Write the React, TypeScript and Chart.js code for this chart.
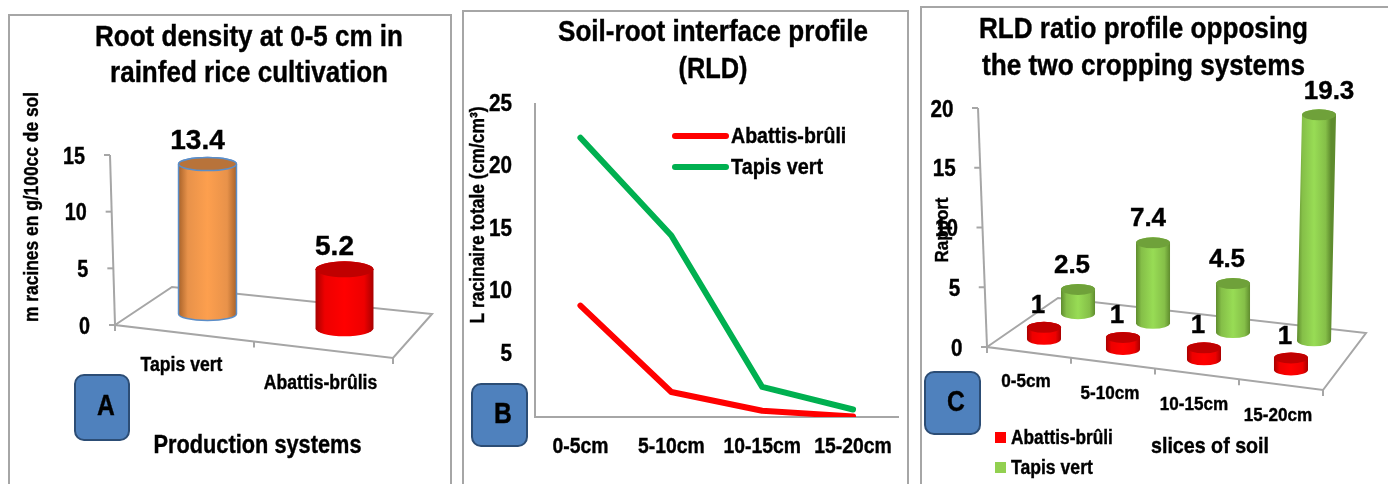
import React, { useEffect, useRef } from "react";
import { Chart, registerables } from "chart.js";

Chart.register(...registerables);

// ---- data ----
const systems = ["Tapis vert", "Abattis-brûlis"];
const rootDensity = [13.4, 5.2];
const depths = ["0-5cm", "5-10cm", "10-15cm", "15-20cm"];
const rldAbattis = [8.9, 2.0, 0.5, 0.05];
const rldTapis = [22.3, 14.5, 2.4, 0.6];
const ratioAbattis = [1, 1, 1, 1];
const ratioTapis = [2.5, 7.4, 4.5, 19.3];

const SANS = '"Liberation Sans", Arial, sans-serif';
const AXIS = "#a6a6a6";
const RED = "#ff0000";
const GREEN_LINE = "#00b050";
const LEAF = "#92d050";
const H = 484;

type Txt = { t: string; x: number; y: number; size: number; rot?: boolean; align?: CanvasTextAlign; w?: number; sq?: number };

function text(ctx: CanvasRenderingContext2D, o: Txt) {
  ctx.save();
  ctx.translate(o.x, o.y);
  if (o.rot) ctx.rotate(-Math.PI / 2);
  ctx.font = `bold ${o.size}px ${SANS}`;
  ctx.fillStyle = "#000";
  ctx.strokeStyle = "#000";
  ctx.lineWidth = 0.4;
  ctx.textAlign = o.align || "center";
  ctx.textBaseline = "middle";
  const full = ctx.measureText(o.t).width;
  const w = o.w ?? full * (o.sq ?? 1);
  ctx.fillText(o.t, 0, 0, w);
  ctx.strokeText(o.t, 0, 0, w);
  ctx.restore();
}

function badge(ctx: CanvasRenderingContext2D, b: any) {
  ctx.save();
  ctx.beginPath();
  ctx.roundRect(b.x, b.y, b.w, b.h, 9);
  ctx.fillStyle = "#4f81bd";
  ctx.fill();
  ctx.lineWidth = 2;
  ctx.strokeStyle = "#2c4d75";
  ctx.stroke();
  ctx.restore();
  text(ctx, { t: b.t, x: b.tx, y: b.ty, size: 29, sq: 0.85 });
}

function cylinder(ctx: CanvasRenderingContext2D, x: number, base: number, h: number, rx: number, ry: number, lean: number, c: any) {
  const tx = x + lean;
  const top = base - h;
  const g = ctx.createLinearGradient(x - rx, 0, x + rx, 0);
  g.addColorStop(0, c.edge);
  g.addColorStop(0.16, c.mid);
  g.addColorStop(0.5, c.light);
  g.addColorStop(0.84, c.mid);
  g.addColorStop(1, c.edge);
  ctx.save();
  ctx.beginPath();
  ctx.moveTo(tx - rx, top);
  ctx.lineTo(x - rx, base);
  ctx.ellipse(x, base, rx, ry, 0, Math.PI, 0, true);
  ctx.lineTo(tx + rx, top);
  ctx.ellipse(tx, top, rx, ry, 0, 0, Math.PI, true);
  ctx.closePath();
  ctx.fillStyle = g;
  ctx.fill();
  if (c.outline) {
    ctx.strokeStyle = c.outline;
    ctx.lineWidth = 1.5;
    ctx.stroke();
  }
  ctx.beginPath();
  ctx.ellipse(tx, top, rx, ry, 0, 0, Math.PI * 2);
  ctx.fillStyle = c.top;
  ctx.fill();
  if (c.outline) ctx.stroke();
  ctx.restore();
}

// Draws the oblique 3-D floor, slanted value axis, cylinders and their labels from the chart's scales.
const decor = {
  id: "decor",
  beforeDatasetsDraw(chart: any, _a: any, o: any) {
    if (!o.floor) return;
    const ctx = chart.ctx as CanvasRenderingContext2D;
    const { left, right, bottom } = chart.chartArea;
    const yS = chart.scales.y;
    const f = o.floor;
    const frontR = bottom + f.slope * (right - left);
    ctx.save();
    ctx.strokeStyle = AXIS;
    ctx.lineWidth = 2;
    ctx.beginPath();
    ctx.moveTo(left, bottom);
    ctx.lineTo(left + f.backL[0], bottom + f.backL[1]);
    ctx.lineTo(right + f.backR[0], frontR + f.backR[1]);
    ctx.lineTo(right, frontR);
    ctx.closePath();
    ctx.stroke();
    chart.data.labels.forEach((_t: any, i: number) => {
      const xx = left + ((i + 1) * (right - left)) / chart.data.labels.length;
      const yy = bottom + f.slope * (xx - left);
      ctx.beginPath();
      ctx.moveTo(xx, yy);
      ctx.lineTo(xx, yy + 6);
      ctx.stroke();
    });
    ctx.beginPath();
    ctx.moveTo(left, bottom);
    ctx.lineTo(left, bottom + 6);
    ctx.stroke();
    const topY = yS.getPixelForValue(yS.max);
    const sx = (y: number) => left - (f.slant * (bottom - y)) / (bottom - topY);
    ctx.beginPath();
    ctx.moveTo(sx(bottom), bottom);
    ctx.lineTo(sx(topY), topY);
    ctx.stroke();
    yS.ticks.forEach((t: any, i: number) => {
      const y = yS.getPixelForTick(i);
      ctx.beginPath();
      ctx.moveTo(sx(y), y);
      ctx.lineTo(sx(y) - 6, y);
      ctx.stroke();
      const s = String(t.value);
      text(ctx, { t: s, x: sx(y) - f.tickGap, y: y + 2, size: f.tickSize, align: "right", w: s.length * f.digitW });
    });
    ctx.restore();
  },
  afterDatasetsDraw(chart: any, _a: any, o: any) {
    const ctx = chart.ctx as CanvasRenderingContext2D;
    if (o.cyl) {
      const { left, bottom } = chart.chartArea;
      const yS = chart.scales.y;
      o.cyl.forEach((c: any) => {
        const meta = chart.getDatasetMeta(c.dataset);
        const vals = chart.data.datasets[c.dataset].data;
        meta.data.forEach((bar: any, i: number) => {
          const x = bar.x + c.dx[i];
          const base = bottom + o.floor.slope * (x - left) - c.depth[i];
          const h = (yS.getPixelForValue(0) - yS.getPixelForValue(vals[i])) * c.k[i];
          const lean = c.lean ? c.lean[i] : 0;
          cylinder(ctx, x, base, h, bar.width / 2, c.ry[i], lean, c.colors[i]);
          text(ctx, { t: String(vals[i]), x: x + lean + c.labelDx[i], y: base - h + c.labelDy, size: o.valueSize });
        });
      });
    }
    if (o.catLabels) {
      const s = chart.scales.x;
      const c = o.catLabels;
      chart.data.labels.forEach((l: string, i: number) => {
        const x = s.getPixelForTick(i) + c.dx;
        text(ctx, { t: l, x, y: c.y0 + c.slope * (x - c.x0), size: c.size, sq: c.sq });
      });
    }
    if (o.flatTicks) {
      const f = o.flatTicks;
      const sx = chart.scales.x;
      const sy = chart.scales.y;
      chart.data.labels.forEach((l: string, i: number) => {
        text(ctx, { t: l, x: sx.getPixelForTick(i), y: f.xLabelY, size: f.xSize, sq: f.xSq });
      });
      sy.ticks.forEach((t: any, i: number) => {
        const s = String(t.value);
        text(ctx, { t: s, x: chart.chartArea.left - f.yGap, y: sy.getPixelForTick(i), size: f.ySize, align: "right", w: s.length * f.digitW });
      });
    }
  },
  afterDraw(chart: any, _a: any, o: any) {
    const ctx = chart.ctx as CanvasRenderingContext2D;
    ctx.save();
    ctx.translate(-o.originX, 0);
    (o.lineLegend || []).forEach((l: any) => {
      const ds = chart.data.datasets[l.dataset];
      ctx.save();
      ctx.strokeStyle = ds.borderColor;
      ctx.lineWidth = ds.borderWidth;
      ctx.lineCap = "round";
      ctx.beginPath();
      ctx.moveTo(l.x1, l.y);
      ctx.lineTo(l.x2, l.y);
      ctx.stroke();
      ctx.restore();
      text(ctx, { t: ds.label, x: l.tx, y: l.y + 1, size: l.size, align: "left", sq: l.sq });
    });
    (o.boxLegend || []).forEach((l: any) => {
      const ds = chart.data.datasets[l.dataset];
      ctx.fillStyle = ds.legendColor;
      ctx.fillRect(l.x, l.y, 11, 11);
      text(ctx, { t: ds.label, x: l.tx, y: l.y + 6, size: l.size, align: "left", sq: l.sq });
    });
    (o.texts || []).forEach((t: Txt) => text(ctx, t));
    badge(ctx, o.badge);
    ctx.restore();
  },
};
Chart.register(decor);

const orange = { edge: "#a9632a", mid: "#e8924a", light: "#fd9f4e", top: "#b8733a", outline: "#5b8ec9" };
const redC = { edge: "#a80000", mid: "#ee0000", light: "#ff0000", top: "#c00000" };
const leafC = { edge: "#5f8c2e", mid: "#85bf48", light: "#98dc55", top: "#6fa13a" };

function configA(): any {
  return {
    type: "bar",
    data: {
      labels: systems,
      datasets: [{ label: "Root density", data: rootDensity, backgroundColor: "transparent", categoryPercentage: 1, barPercentage: 0.417 }],
    },
    options: {
      animation: false,
      responsive: false,
      layout: { padding: { left: 115, right: 105, top: 155, bottom: H - 325 } },
      scales: {
        x: { display: false },
        y: { display: false, min: 0, max: 15, ticks: { stepSize: 5 } },
      },
      plugins: {
        legend: { display: false },
        tooltip: { enabled: false },
        title: { display: false },
        decor: {
          originX: 0,
          valueSize: 28,
          floor: { slope: 0.1187, backL: [57, -38], backR: [39, -44], slant: 5, tickGap: 25, tickSize: 24, digitW: 11 },
          cyl: [{ dataset: 0, dx: [23, 21], depth: [22, 24], k: [0.987, 1], ry: [6.5, 8], labelDx: [-10, -10], labelDy: -22.5, colors: [orange, redC] }],
          catLabels: { dx: -3, x0: 181, y0: 365, slope: 0.13, size: 20, sq: 0.88 },
          texts: [
            { t: "Root density at 0-5 cm in", x: 249, y: 38, size: 30, w: 308 },
            { t: "rainfed rice cultivation", x: 249, y: 74, size: 30, w: 278 },
            { t: "m racines en g/100cc de sol", x: 32, y: 207, size: 20, rot: true, w: 230 },
            { t: "Production systems", x: 257.5, y: 446, size: 26, w: 208 },
          ],
          badge: { x: 75, y: 375, w: 54, h: 65, t: "A", tx: 106, ty: 407 },
        },
      },
    },
  };
}

function configB(): any {
  const lineStyle = { borderWidth: 6, pointRadius: 0, tension: 0, borderJoinStyle: "round", borderCapStyle: "round" };
  return {
    type: "line",
    data: {
      labels: depths,
      datasets: [
        { label: "Abattis-brûli", data: rldAbattis, borderColor: RED, ...lineStyle },
        { label: "Tapis vert", data: rldTapis, borderColor: GREEN_LINE, ...lineStyle },
      ],
    },
    options: {
      animation: false,
      responsive: false,
      layout: { padding: { left: 0, right: 65.5, top: 104, bottom: 0 } },
      scales: {
        x: {
          offset: true,
          grid: { display: false, drawTicks: false },
          border: { color: AXIS, width: 2 },
          ticks: { display: false },
          afterFit: (s: any) => { s.height = 67; },
        },
        y: {
          min: 0,
          max: 25,
          grid: { display: false, drawTicks: false },
          border: { color: AXIS, width: 2 },
          ticks: { display: false, stepSize: 5 },
          afterFit: (s: any) => { s.width = 73; },
        },
      },
      plugins: {
        legend: { display: false },
        tooltip: { enabled: false },
        title: { display: false },
        decor: {
          originX: 462,
          flatTicks: { xLabelY: 447, xSize: 22, xSq: 0.88, ySize: 24, yGap: 23, digitW: 11.5 },
          lineLegend: [
            { dataset: 0, x1: 675, x2: 726, y: 136, tx: 731, size: 22, sq: 0.89 },
            { dataset: 1, x1: 675, x2: 726, y: 167, tx: 731, size: 22, sq: 0.9 },
          ],
          texts: [
            { t: "Soil-root interface profile", x: 713, y: 33, size: 30, w: 310 },
            { t: "(RLD)", x: 713, y: 70, size: 30, w: 69 },
            { t: "L racinaire totale (cm/cm³)", x: 478, y: 215, size: 20, rot: true, w: 217 },
          ],
          badge: { x: 472, y: 384, w: 55, h: 62, t: "B", tx: 503, ty: 415 },
        },
      },
    },
  };
}

function configC(): any {
  const green = [leafC, leafC, leafC, leafC];
  const red = [redC, redC, redC, redC];
  return {
    type: "bar",
    data: {
      labels: depths,
      datasets: [
        { label: "Abattis-brûli", data: ratioAbattis, backgroundColor: "transparent", legendColor: RED, categoryPercentage: 0.81, barPercentage: 1 },
        { label: "Tapis vert", data: ratioTapis, backgroundColor: "transparent", legendColor: LEAF, categoryPercentage: 0.81, barPercentage: 1 },
      ],
    },
    options: {
      animation: false,
      responsive: false,
      layout: { padding: { left: 87, right: 65, top: 108, bottom: H - 347 } },
      scales: {
        x: { display: false },
        y: { display: false, min: 0, max: 20, ticks: { stepSize: 5 } },
      },
      plugins: {
        legend: { display: false },
        tooltip: { enabled: false },
        title: { display: false },
        decor: {
          originX: 900,
          valueSize: 26,
          floor: { slope: 0.128, backL: [71, -49], backR: [43, -57], slant: 9, tickGap: 24.5, tickSize: 24, digitW: 11.5 },
          cyl: [
            { dataset: 1, dx: [32, 23, 19, 16], depth: [45, 45, 46, 48], k: [0.81, 0.91, 0.91, 0.98], lean: [0, 0, 0, 5], ry: [5.5, 5.5, 5.5, 5.5], labelDx: [-6, -5, -6, 10], labelDy: -23.5, colors: green },
            { dataset: 0, dx: [32, 27, 24, 27], depth: [15, 15, 15, 16], k: [1, 1, 1, 1], ry: [5.5, 5.5, 5.5, 5.5], labelDx: [-6, -6, -6, -6], labelDy: -21.5, colors: red },
          ],
          catLabels: { dx: -3, x0: 1026 - 900, y0: 382, slope: 0.135, size: 19, sq: 0.9 },
          boxLegend: [
            { dataset: 0, x: 995, y: 432, tx: 1011, size: 20, sq: 0.865 },
            { dataset: 1, x: 995, y: 462, tx: 1011, size: 20, sq: 0.88 },
          ],
          texts: [
            { t: "RLD ratio profile opposing", x: 1143.5, y: 30, size: 30, w: 329 },
            { t: "the two cropping systems", x: 1143.5, y: 67, size: 30, w: 323 },
            { t: "Rapport", x: 943, y: 230, size: 18, rot: true, w: 65 },
            { t: "slices of soil", x: 1210, y: 447, size: 22, w: 118 },
          ],
          badge: { x: 925, y: 372, w: 55, h: 62, t: "C", tx: 956, ty: 403 },
        },
      },
    },
  };
}

const panels = [
  { left: 0, width: 498, make: configA },
  { left: 462, width: 502, make: configB },
  { left: 900, width: 488, make: configC },
];

const frames = [
  { left: 8, top: 14, width: 444, height: 520 },
  { left: 462, top: 10, width: 447, height: 520 },
  { left: 920, top: 6, width: 520, height: 520 },
];

function Panel({ left, width, make }: any) {
  const ref = useRef<HTMLCanvasElement>(null);
  useEffect(() => {
    const chart = new Chart(ref.current!, make());
    return () => chart.destroy();
  }, [make]);
  return <canvas ref={ref} width={width} height={H} style={{ position: "absolute", left, top: 0, width, height: H }} />;
}

export default function App() {
  return (
    <div style={{ position: "absolute", left: 0, top: 0, width: 1388, height: H, overflow: "hidden", background: "#fff" }}>
      {frames.map((f, i) => (
        <div key={i} style={{ position: "absolute", ...f, border: `2px solid ${AXIS}`, boxSizing: "border-box" }} />
      ))}
      {panels.map((p, i) => (
        <Panel key={i} {...p} />
      ))}
    </div>
  );
}
